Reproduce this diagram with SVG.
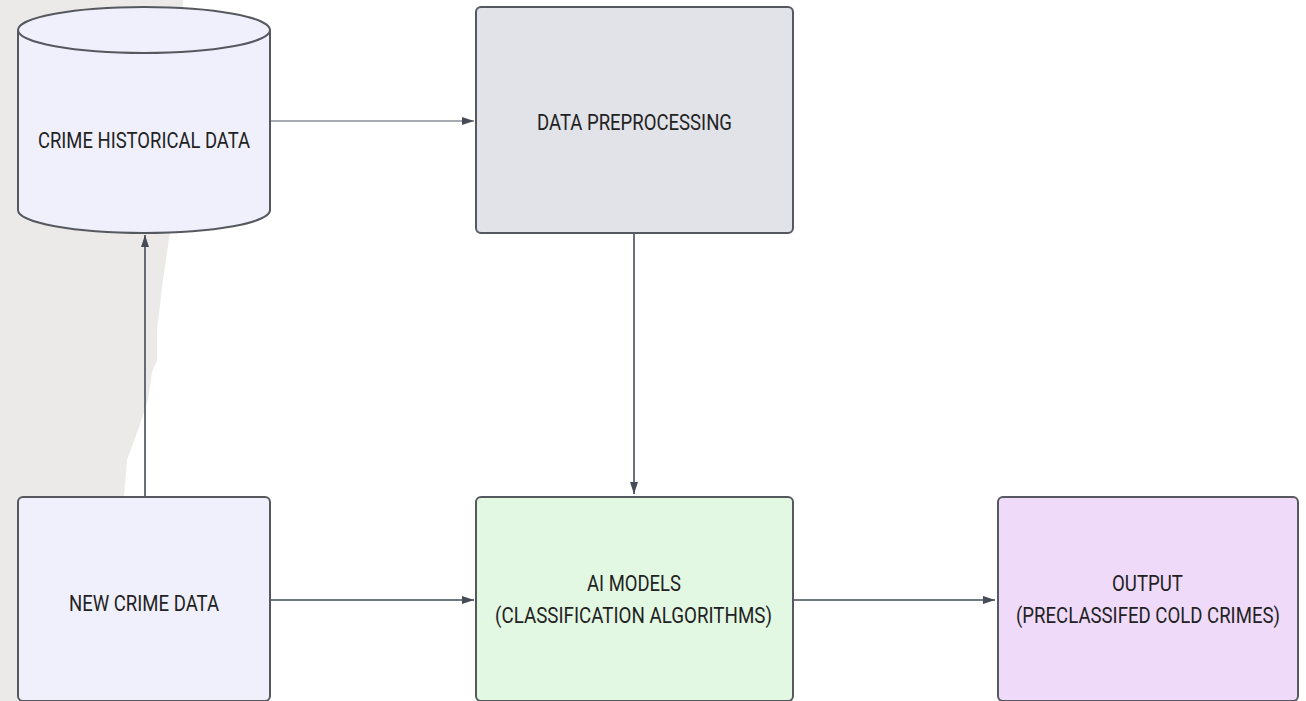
<svg xmlns="http://www.w3.org/2000/svg" width="1306" height="701" viewBox="0 0 1306 701">
<defs>
<marker id="ah" viewBox="0 0 12 8" refX="12" refY="4" markerWidth="12" markerHeight="8" markerUnits="userSpaceOnUse" orient="auto">
<path d="M0,0 L12,4 L0,8 Z" fill="#454c58"/>
</marker>
<style>
.node{stroke:#55595f;stroke-width:2}
.lbl{font-family:Roboto,"Liberation Sans",sans-serif;font-size:22px;fill:#222;text-anchor:middle}
.edge{fill:none;stroke:#454c58;stroke-width:1.6}
</style>
</defs>
<rect width="1306" height="701" fill="#ffffff"/>
<path id="scan-shade" d="M0,0 H183 L181,60 L176,160 L170,232 L163,280 L157,330 L157,360 L152,372 L148,400 L138,430 L127,460 L124,497 L124,520 H18 V701 H0 Z" fill="#ebeae8"/>
<g id="edges">
<path class="edge" d="M271,121 H474" stroke="#8a8e95" style="stroke:#8a8e95" marker-end="url(#ah)"/>
<path class="edge" d="M634,234 V494" marker-end="url(#ah)"/>
<path class="edge" d="M145,496 V235" marker-end="url(#ah)"/>
<path class="edge" d="M271,600 H474" marker-end="url(#ah)"/>
<path class="edge" d="M794,600 H995" marker-end="url(#ah)"/>
</g>
<g id="crime-historical-data">
<path class="node" d="M18,30 A126,23 0 0,1 270,30 V210 A126,23 0 0,1 18,210 Z" fill="#f0f0fc"/>
<path class="node" d="M18,30 A126,23 0 0,0 270,30" fill="none"/>
<text class="lbl" x="144" y="148" textLength="212" lengthAdjust="spacingAndGlyphs">CRIME HISTORICAL DATA</text>
</g>
<g id="data-preprocessing">
<rect class="node" x="476" y="7" width="317" height="226" rx="5" fill="#e1e3e8"/>
<text class="lbl" x="634.5" y="129.5" textLength="195" lengthAdjust="spacingAndGlyphs">DATA PREPROCESSING</text>
</g>
<g id="new-crime-data">
<rect class="node" x="18" y="497" width="252" height="204" rx="5" fill="#f0f0fc"/>
<text class="lbl" x="144" y="611" textLength="150" lengthAdjust="spacingAndGlyphs">NEW CRIME DATA</text>
</g>
<g id="ai-models">
<rect class="node" x="476" y="497" width="317" height="204" rx="5" fill="#e2f8e2"/>
<text class="lbl" x="634" y="591" textLength="94" lengthAdjust="spacingAndGlyphs">AI MODELS</text>
<text class="lbl" x="633.5" y="623" textLength="277" lengthAdjust="spacingAndGlyphs">(CLASSIFICATION ALGORITHMS)</text>
</g>
<g id="output">
<rect class="node" x="998" y="497" width="300" height="204" rx="5" fill="#f0dafa"/>
<text class="lbl" x="1147.5" y="591" textLength="71" lengthAdjust="spacingAndGlyphs">OUTPUT</text>
<text class="lbl" x="1148" y="623" textLength="264" lengthAdjust="spacingAndGlyphs">(PRECLASSIFED COLD CRIMES)</text>
</g>
</svg>
